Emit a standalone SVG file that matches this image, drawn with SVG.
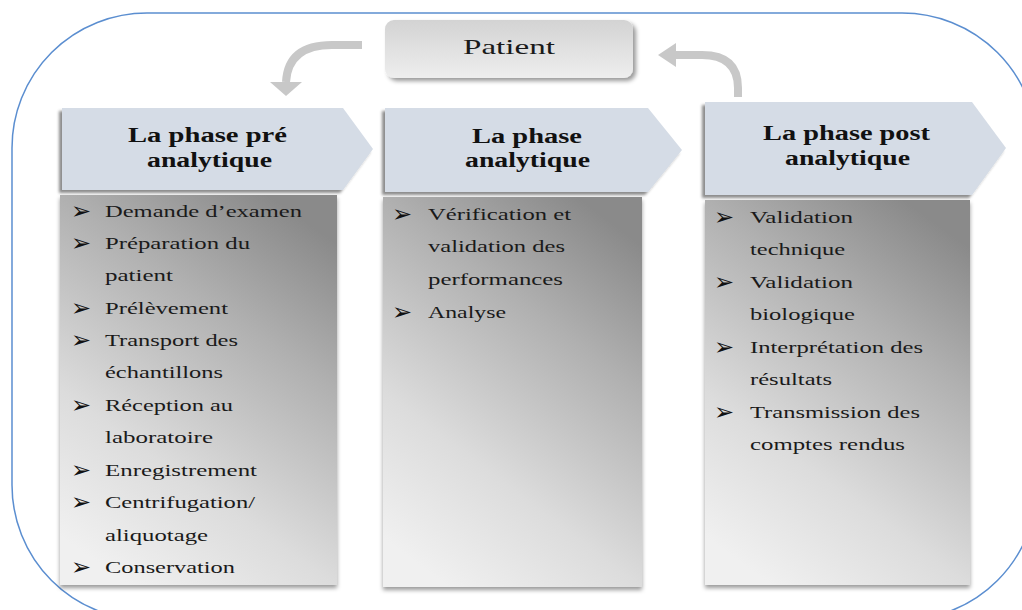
<svg xmlns="http://www.w3.org/2000/svg" width="1022" height="610" viewBox="0 0 1022 610">
  <defs>
    <linearGradient id="patientFill" x1="0" y1="0" x2="0" y2="1">
      <stop offset="0" stop-color="#d3d3d3"/>
      <stop offset="1" stop-color="#eeeeee"/>
    </linearGradient>
    <linearGradient id="bodyFill" x1="0.75" y1="0" x2="0.25" y2="1">
      <stop offset="0" stop-color="#8a8a8a"/>
      <stop offset="0.3" stop-color="#b0b0b0"/>
      <stop offset="0.7" stop-color="#dcdcdc"/>
      <stop offset="1" stop-color="#f0f0f0"/>
    </linearGradient>
    <filter id="shHead" x="-10%" y="-10%" width="120%" height="130%">
      <feDropShadow dx="-3" dy="3" stdDeviation="1.5" flood-color="#000" flood-opacity="0.45"/>
    </filter>
    <filter id="shBody" x="-10%" y="-5%" width="120%" height="110%">
      <feDropShadow dx="0" dy="3" stdDeviation="2" flood-color="#000" flood-opacity="0.4"/>
    </filter>
    <filter id="shPatient" x="-10%" y="-20%" width="120%" height="150%">
      <feDropShadow dx="3" dy="3" stdDeviation="2" flood-color="#000" flood-opacity="0.4"/>
    </filter>
  </defs>
  <style>
    .frame { fill: none; stroke: #5b8ed0; stroke-width: 1.5; }
    .head { fill: #d5dce6; filter: url(#shHead); }
    .body { fill: url(#bodyFill); filter: url(#shBody); }
    .curve { fill: none; stroke: #c8c8c8; stroke-width: 8; }
    .tip { fill: #c8c8c8; }
    .ht { font-family: "Liberation Serif", "DejaVu Serif", serif; font-weight: bold; font-size: 20px; fill: #111; }
    .li { font-family: "Liberation Serif", "DejaVu Serif", serif; font-size: 17px; fill: #1a1a1a; }
    .bu { font-family: "DejaVu Sans", sans-serif; font-size: 24px; fill: #111; }
    .pt { font-family: "Liberation Serif", "DejaVu Serif", serif; font-size: 21px; fill: #1a1a1a; }
  </style>

  <rect fill="#ffffff" x="0" y="0" width="1022" height="610"/>

  <!-- outer rounded frame -->
  <rect class="frame" x="12" y="13" width="1025" height="607" rx="135" ry="135"/>

  <!-- connectors: curved return arrows -->
  <g id="connectors">
    <path class="curve" d="M362,45 H332 Q288,45 286,82"/>
    <polygon class="tip" points="270,82 302,82 286,96"/>
    <path class="curve" d="M738,97 V88 Q738,55 702,55 H676"/>
    <polygon class="tip" points="676,43 676,67 658,55"/>
  </g>

  <g id="patient">
    <rect x="385" y="20" width="248" height="58" rx="9" ry="9" fill="url(#patientFill)" filter="url(#shPatient)"/>
    <text class="pt" x="463" y="54" textLength="92" lengthAdjust="spacingAndGlyphs">Patient</text>
  </g>

  <g id="phase-pre">
    <polygon class="head" points="62,108 343,108 373,149 343,190 62,190"/>
    <text class="ht" x="128" y="142" textLength="159" lengthAdjust="spacingAndGlyphs">La phase pré</text>
    <text class="ht" x="147" y="167" textLength="125" lengthAdjust="spacingAndGlyphs">analytique</text>
    <rect class="body" x="60" y="195" width="277" height="390"/>
    <g class="bu">
      <text x="71" y="219">➢</text>
      <text x="71" y="251">➢</text>
      <text x="71" y="316">➢</text>
      <text x="71" y="348">➢</text>
      <text x="71" y="413">➢</text>
      <text x="71" y="478">➢</text>
      <text x="71" y="510">➢</text>
      <text x="71" y="575">➢</text>
    </g>
    <g class="li">
      <text x="105" y="217" textLength="197" lengthAdjust="spacingAndGlyphs">Demande d’examen</text>
      <text x="105" y="249" textLength="145" lengthAdjust="spacingAndGlyphs">Préparation du</text>
      <text x="105" y="281" textLength="68" lengthAdjust="spacingAndGlyphs">patient</text>
      <text x="105" y="314" textLength="123" lengthAdjust="spacingAndGlyphs">Prélèvement</text>
      <text x="105" y="346" textLength="133" lengthAdjust="spacingAndGlyphs">Transport des</text>
      <text x="105" y="378" textLength="118" lengthAdjust="spacingAndGlyphs">échantillons</text>
      <text x="105" y="411" textLength="128" lengthAdjust="spacingAndGlyphs">Réception au</text>
      <text x="105" y="443" textLength="108" lengthAdjust="spacingAndGlyphs">laboratoire</text>
      <text x="105" y="476" textLength="152" lengthAdjust="spacingAndGlyphs">Enregistrement</text>
      <text x="105" y="508" textLength="150" lengthAdjust="spacingAndGlyphs">Centrifugation/</text>
      <text x="105" y="541" textLength="103" lengthAdjust="spacingAndGlyphs">aliquotage</text>
      <text x="105" y="573" textLength="130" lengthAdjust="spacingAndGlyphs">Conservation</text>
    </g>
  </g>

  <g id="phase-analytique">
    <polygon class="head" points="385,108 648,108 682,150 648,192 385,192"/>
    <text class="ht" x="472" y="143" textLength="110" lengthAdjust="spacingAndGlyphs">La phase</text>
    <text class="ht" x="465" y="167" textLength="125" lengthAdjust="spacingAndGlyphs">analytique</text>
    <rect class="body" x="383" y="197" width="259" height="390"/>
    <g class="bu">
      <text x="392" y="222">➢</text>
      <text x="392" y="320">➢</text>
    </g>
    <g class="li">
      <text x="428" y="220" textLength="143" lengthAdjust="spacingAndGlyphs">Vérification et</text>
      <text x="428" y="252" textLength="137" lengthAdjust="spacingAndGlyphs">validation des</text>
      <text x="428" y="285" textLength="135" lengthAdjust="spacingAndGlyphs">performances</text>
      <text x="428" y="318" textLength="78" lengthAdjust="spacingAndGlyphs">Analyse</text>
    </g>
  </g>

  <g id="phase-post">
    <polygon class="head" points="705,102 972,102 1006,148 972,195 705,195"/>
    <text class="ht" x="763" y="140" textLength="167" lengthAdjust="spacingAndGlyphs">La phase post</text>
    <text class="ht" x="785" y="165" textLength="125" lengthAdjust="spacingAndGlyphs">analytique</text>
    <rect class="body" x="705" y="200" width="265" height="385"/>
    <g class="bu">
      <text x="714" y="225">➢</text>
      <text x="714" y="290">➢</text>
      <text x="714" y="355">➢</text>
      <text x="714" y="420">➢</text>
    </g>
    <g class="li">
      <text x="750" y="223" textLength="103" lengthAdjust="spacingAndGlyphs">Validation</text>
      <text x="750" y="255" textLength="95" lengthAdjust="spacingAndGlyphs">technique</text>
      <text x="750" y="288" textLength="103" lengthAdjust="spacingAndGlyphs">Validation</text>
      <text x="750" y="320" textLength="105" lengthAdjust="spacingAndGlyphs">biologique</text>
      <text x="750" y="353" textLength="173" lengthAdjust="spacingAndGlyphs">Interprétation des</text>
      <text x="750" y="385" textLength="82" lengthAdjust="spacingAndGlyphs">résultats</text>
      <text x="750" y="418" textLength="170" lengthAdjust="spacingAndGlyphs">Transmission des</text>
      <text x="750" y="450" textLength="155" lengthAdjust="spacingAndGlyphs">comptes rendus</text>
    </g>
  </g>
</svg>
